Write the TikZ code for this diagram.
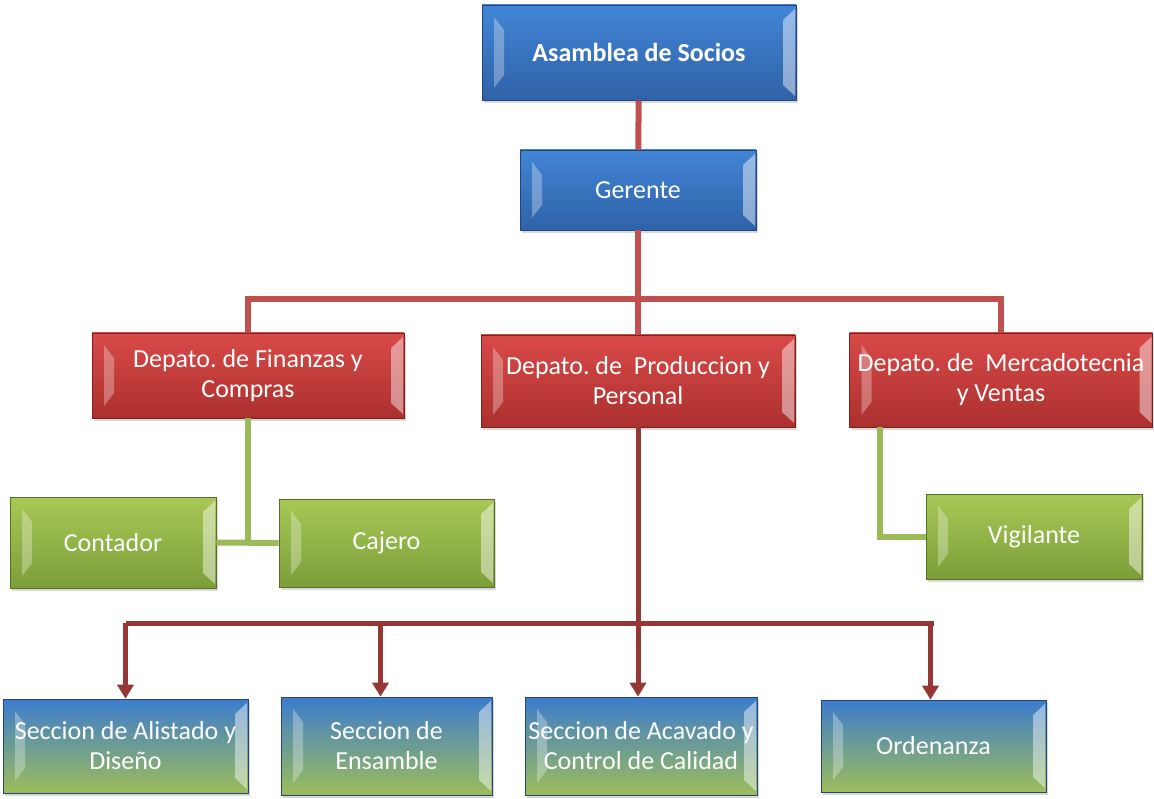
\documentclass[tikz,border=0pt]{standalone}
\usepackage{fontspec}
\setmainfont{Carlito}
\usetikzlibrary{arrows.meta,shadows}
\frenchspacing

\definecolor{bluetop}{RGB}{66,133,214}
\definecolor{bluebot}{RGB}{47,98,168}
\definecolor{redtop}{RGB}{216,74,72}
\definecolor{redbot}{RGB}{172,48,46}
\definecolor{greentop}{RGB}{168,200,86}
\definecolor{greenbot}{RGB}{124,158,56}
\definecolor{mixtop}{RGB}{60,124,205}
\definecolor{mixbot}{RGB}{157,189,90}
\definecolor{linered}{RGB}{192,80,77}
\definecolor{linedark}{RGB}{149,55,53}
\definecolor{linegreen}{RGB}{155,187,89}

\tikzset{
  bevel/.style={path picture={
    \fill[white,opacity=0.3]
      ([shift={(12pt,-12pt)}]path picture bounding box.north west) --
      ([shift={(12pt,12pt)}]path picture bounding box.south west) --
      ([shift={(22pt,25pt)}]path picture bounding box.south west) --
      ([shift={(22pt,-25pt)}]path picture bounding box.north west) -- cycle;
    \fill[white,opacity=0.45]
      ([shift={(-1pt,-4pt)}]path picture bounding box.north east) --
      ([shift={(-1pt,4pt)}]path picture bounding box.south east) --
      ([shift={(-13pt,15pt)}]path picture bounding box.south east) --
      ([shift={(-13pt,-15pt)}]path picture bounding box.north east) -- cycle;
  }},
  orgbox/.style={rectangle, inner sep=0pt, align=center, text=white,
    draw=#1!70!black, line width=0.6pt, bevel,
    drop shadow={opacity=0.3, shadow xshift=2pt, shadow yshift=-3pt}},
  bluebox/.style={orgbox=bluebot, top color=bluetop, bottom color=bluebot},
  redbox/.style={orgbox=redbot, top color=redtop, bottom color=redbot},
  greenbox/.style={orgbox=greenbot, top color=greentop, bottom color=greenbot},
  mixbox/.style={orgbox=bluebot, top color=mixtop, bottom color=mixbot},
  redline/.style={draw=linered, line width=6pt},
  darkline/.style={draw=linedark, line width=5pt},
  greenline/.style={draw=linegreen, line width=6pt},
  darkarrow/.style={darkline, -{Triangle[width=16pt,length=14pt]}}
}

\begin{document}
\begin{tikzpicture}[x=1pt,y=-1pt]
\tikzstyle{every node}=[font=\fontsize{26}{30}\selectfont]
\useasboundingbox (0,0) rectangle (1154,799);

\node[bluebox, minimum width=314pt, minimum height=95pt] (socios) at (639,52.5) {\bfseries Asamblea de Socios};
\node[bluebox, minimum width=236pt, minimum height=80pt] (gerente) at (638,190) {Gerente};

\node[redbox, minimum width=312pt, minimum height=85pt] (finanzas) at (248,375.5) {Depato. de Finanzas y\\Compras};
\node[redbox, minimum width=314pt, minimum height=92pt] (produccion) at (638,381) {Depato. de~ Produccion y\\Personal};
\node[redbox, minimum width=303pt, minimum height=94pt] (mercado) at (1001,380) {Depato. de~ Mercadotecnia\\y Ventas};

\node[greenbox, minimum width=206pt, minimum height=91pt] (contador) at (113,542.5) {Contador};
\node[greenbox, minimum width=215pt, minimum height=88pt] (cajero) at (386.5,543) {Cajero};
\node[greenbox, minimum width=216pt, minimum height=85pt] (vigilante) at (1034,536.5) {Vigilante};

\node[mixbox, minimum width=245pt, minimum height=94pt] (alistado) at (125.5,746) {Seccion de Alistado y\\Diseño};
\node[mixbox, minimum width=211pt, minimum height=98pt] (ensamble) at (386.5,746) {Seccion de\\Ensamble};
\node[mixbox, minimum width=232pt, minimum height=98pt] (acavado) at (641,746) {Seccion de Acavado y\\Control de Calidad};
\node[mixbox, minimum width=225pt, minimum height=92pt] (ordenanza) at (933.5,746) {Ordenanza};

\coordinate (topbar) at (638,299);
\coordinate (lowbar) at (638,623);

\draw[redline] (socios) -- (gerente);
\draw[redline] (gerente.south) -- (topbar);
\draw[redline] (finanzas.north) |- (topbar) -| (mercado.north);
\draw[redline] (topbar) -- (produccion.north);

\draw[greenline] (finanzas.south) -- (finanzas.south |- cajero.west);
\draw[greenline] (contador.east) -- (cajero.west);
\draw[greenline] ([xshift=-121pt]mercado.south) |- (vigilante.west);

\draw[darkline] (produccion.south) -- (lowbar);
\draw[darkline] (lowbar -| alistado.north) -- (lowbar -| ordenanza.north);
\draw[darkarrow] (lowbar -| alistado.north) -- (alistado.north);
\draw[darkarrow] ([xshift=-6pt]lowbar -| ensamble.north) -- ([xshift=-6pt]ensamble.north);
\draw[darkarrow] (lowbar) -- (lowbar |- acavado.north);
\draw[darkarrow] ([xshift=-3pt]lowbar -| ordenanza.north) -- ([xshift=-3pt]ordenanza.north);
\end{tikzpicture}
\end{document}
